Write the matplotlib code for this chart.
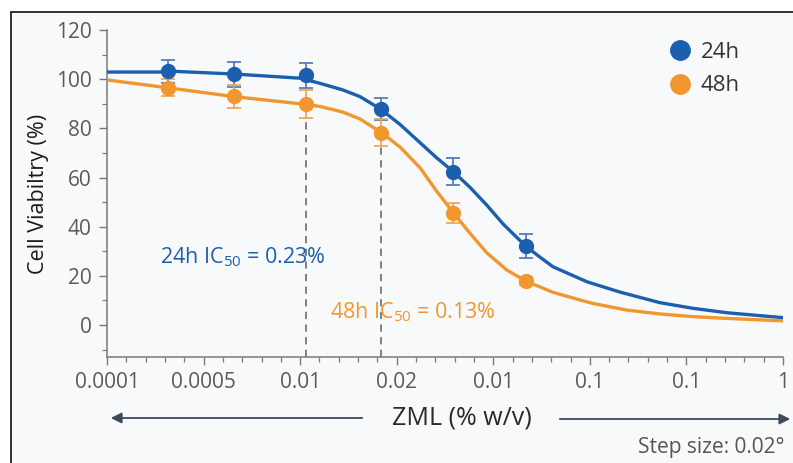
import matplotlib
matplotlib.use("Agg")
import matplotlib.pyplot as plt
from matplotlib.lines import Line2D
from matplotlib.patches import Rectangle, FancyArrowPatch
from matplotlib.ticker import MultipleLocator

plt.rcParams['font.family'] = ['Open Sans', 'DejaVu Sans']
plt.rcParams['mathtext.fontset'] = 'custom'
plt.rcParams['mathtext.rm'] = 'Open Sans'
plt.rcParams['mathtext.default'] = 'regular'

# ---- data ----
x_tick_labels = ["0.0001", "0.0005", "0.01", "0.02", "0.01", "0.1", "0.1", "1"]
x_points = [0.63, 1.315, 2.06, 2.834, 3.586, 4.336]
viab_24h = [103.3, 102.0, 101.5, 87.8, 62.4, 32.1]
err_24h = [4.7, 5.0, 5.2, 4.6, 5.5, 5.0]
viab_48h = [96.6, 93.0, 90.0, 78.2, 45.7, 17.9]
err_48h = [3.3, 4.8, 5.6, 5.4, 4.0, 1.8]

fit_x_24h = [0.0, 0.55, 0.63, 1.315, 2.0, 2.206, 2.444, 2.62, 2.834, 3.034, 3.241,
             3.414, 3.586, 3.759, 3.932, 4.104, 4.336, 4.484, 4.618, 4.97, 5.312,
             5.726, 6.068, 6.42, 7.0]
fit_y_24h = [102.9, 102.9, 103.3, 102.1, 100.4, 98.3, 95.6, 92.9, 87.8, 81.6, 74.2,
             68.0, 62.4, 56.0, 48.8, 41.0, 32.1, 27.6, 23.7, 17.6, 13.4,
             9.1, 6.8, 5.0, 3.0]
fit_x_48h = [0.0, 0.63, 1.315, 2.0, 2.206, 2.444, 2.62, 2.845, 3.034, 3.241, 3.414,
             3.586, 3.759, 3.932, 4.139, 4.336, 4.618, 4.898, 5.03, 5.38, 5.726,
             6.068, 6.42, 7.0]
fit_y_48h = [99.7, 96.5, 92.9, 90.0, 88.9, 86.6, 83.8, 78.2, 72.4, 64.0, 54.4,
             45.7, 37.3, 29.4, 22.4, 17.9, 13.3, 10.2, 8.8, 6.1, 4.5,
             3.4, 2.7, 1.7]
ic50_lines_x = [x_points[2], x_points[3]]
ic50_lines_top = [viab_48h[2] - err_48h[2], viab_48h[3] - err_48h[3]]

blue = "#1c5fae"
orange = "#f2972f"
blue_err = "#4a74b8"
orange_err = "#f0a24a"
axis_col = "#7a7a7a"
tick_col = "#5a5a5a"

W, H = 793, 463
fig = plt.figure(figsize=(W / 100, H / 100), dpi=100, facecolor="white")

# outer panel frame
fig.patches.append(Rectangle((11 / W, -0.05), 1.2, (H - 12) / H + 0.05,
                             transform=fig.transFigure, facecolor="#f8f9fb",
                             edgecolor="#222222", linewidth=1.3, zorder=-10))

ax = fig.add_axes([107 / W, (H - 357) / H, (783 - 107) / W, (357 - 30) / H])
ax.set_facecolor("none")
ax.set_xlim(0, 7)
ax.set_ylim(-13, 120)

for s in ["top", "right"]:
    ax.spines[s].set_visible(False)
for s in ["left", "bottom"]:
    ax.spines[s].set_color(axis_col)
    ax.spines[s].set_linewidth(1.1)

ax.set_xticks(range(len(x_tick_labels)))
ax.set_xticklabels(x_tick_labels)
ax.xaxis.set_minor_locator(MultipleLocator(0.2))
ax.set_yticks([0, 20, 40, 60, 80, 100, 120])
ax.yaxis.set_minor_locator(MultipleLocator(10))
ax.tick_params(which="major", direction="out", length=6, width=1, color=axis_col,
               labelcolor=tick_col, labelsize=15, pad=5)
ax.tick_params(which="minor", direction="out", length=3.5, width=0.9, color=axis_col)

ax.set_ylabel("Cell Viabiltry (%)", fontsize=15.5, color="#1a1a1a", labelpad=5)

# IC50 dashed lines
for xv, top in zip(ic50_lines_x, ic50_lines_top):
    ax.plot([xv, xv], [-13, top], color="#777777", lw=1.3, ls=(0, (4, 3)), zorder=1)

# fitted curves
ax.plot(fit_x_24h, fit_y_24h, color=blue, lw=2.4, zorder=3, solid_capstyle="round",
        solid_joinstyle="round")
ax.plot(fit_x_48h, fit_y_48h, color=orange, lw=2.4, zorder=3, solid_capstyle="round",
        solid_joinstyle="round")

# data points with error bars
ax.errorbar(x_points, viab_24h, yerr=err_24h, fmt="none", ecolor=blue_err,
            elinewidth=1.2, capsize=5, capthick=1.2, zorder=4)
ax.errorbar(x_points, viab_48h, yerr=err_48h, fmt="none", ecolor=orange_err,
            elinewidth=1.2, capsize=5, capthick=1.2, zorder=4)
ax.plot(x_points, viab_24h, "o", color=blue, ms=10, zorder=5)
ax.plot(x_points, viab_48h, "o", color=orange, ms=10, zorder=5)

# IC50 annotations
ax.text(0.55, 27.5, "24h IC$_{50}$ = 0.23%", color=blue, fontsize=15.5,
        va="center", ha="left")
ax.text(2.31, 5.3, "48h IC$_{50}$ = 0.13%", color=orange, fontsize=15.5,
        va="center", ha="left")

# legend
handles = [Line2D([], [], ls="none", marker="o", ms=14, color=blue),
           Line2D([], [], ls="none", marker="o", ms=14, color=orange)]
leg = ax.legend(handles, ["24h", "48h"], loc="upper left",
                bbox_to_anchor=(656 / W, (H - 31) / H), bbox_transform=fig.transFigure,
                frameon=False, fontsize=16, handletextpad=0.3, labelspacing=0.55,
                handlelength=1.2, borderpad=0)
for t in leg.get_texts():
    t.set_color("#333333")

# x label with arrows
fig.text(462 / W, 1 - 418 / H, "ZML (% w/v)", ha="center", va="center",
         fontsize=18, color="#2a2a2a")
arrow_col = "#3b4b5c"
fig.patches.append(FancyArrowPatch((365 / W, 1 - 418 / H), (108 / W, 1 - 418 / H),
                                   transform=fig.transFigure, arrowstyle="-|>",
                                   mutation_scale=16, color=arrow_col, lw=1.3))
fig.patches.append(FancyArrowPatch((557 / W, 1 - 419 / H), (793 / W, 1 - 419 / H),
                                   transform=fig.transFigure, arrowstyle="-|>",
                                   mutation_scale=16, color=arrow_col, lw=1.3))

fig.text(785 / W, 1 - 448 / H, "Step size: 0.02°", ha="right", va="center",
         fontsize=15, color="#555555")

fig.savefig("out.png", dpi=100, facecolor="white")
